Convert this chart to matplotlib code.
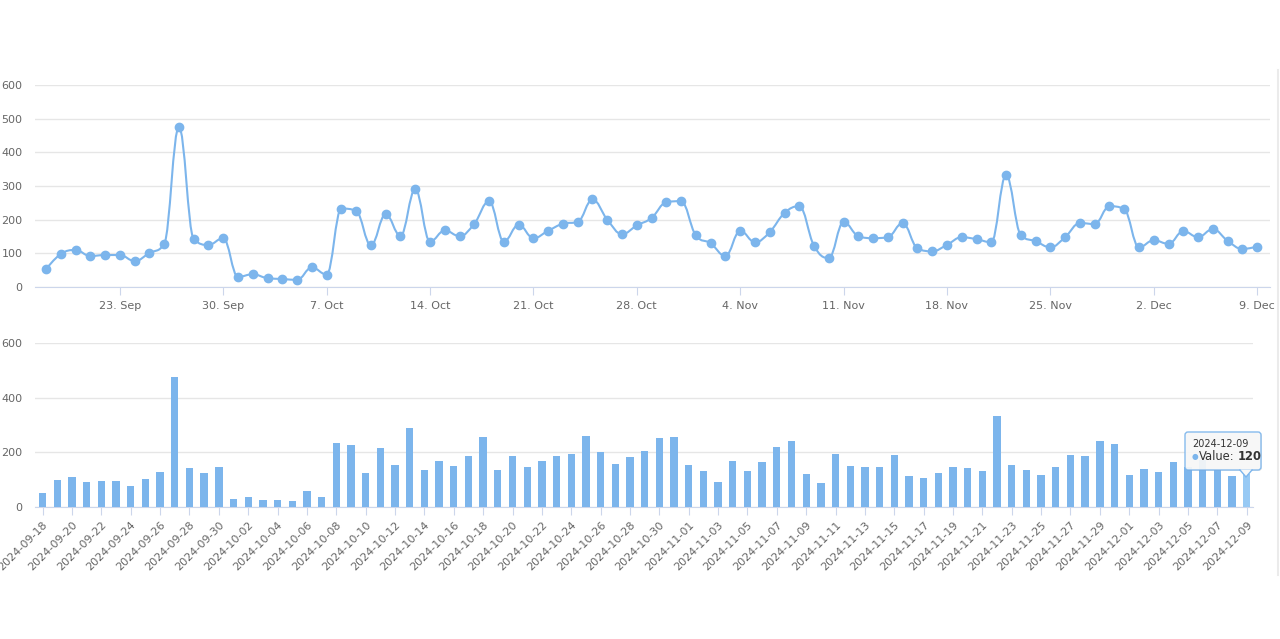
import datetime as dt
import matplotlib
matplotlib.use("Agg")
import matplotlib.pyplot as plt
import matplotlib.dates as mdates
from matplotlib.path import Path
from matplotlib.patches import PathPatch, FancyBboxPatch, Polygon
from matplotlib.lines import Line2D
from matplotlib.text import Annotation

# Daily values, 2024-09-18 .. 2024-12-09
start = dt.date(2024, 9, 18)
values = [53, 98, 110, 92, 95, 95, 77, 101, 128, 475,
          143, 125, 145, 30, 38, 26, 24, 21, 58, 37,
          233, 226, 124, 216, 152, 290, 135, 168, 151, 188,
          255, 135, 185, 145, 167, 188, 193, 260, 200, 157,
          183, 205, 252, 255, 153, 130, 92, 167, 133, 163,
          220, 240, 122, 86, 193, 151, 145, 148, 190, 115,
          106, 125, 148, 142, 133, 332, 154, 136, 118, 148,
          190, 187, 240, 231, 118, 139, 128, 166, 148, 172,
          137, 113, 120]
dates = [start + dt.timedelta(days=i) for i in range(len(values))]
labels = [d.strftime("%Y-%m-%d") for d in dates]

BLUE = "#7cb5ec"
HOVER = "#97c9f4"
GRID = "#e6e6e6"
AXIS = "#ccd6eb"
TXT = "#666666"

plt.rcParams["font.family"] = ["DejaVu Sans"]

W, H = 1280, 639
fig = plt.figure(figsize=(W / 100, H / 100), dpi=100)


def frac(x0, y0, x1, y1):
    return [x0 / W, 1 - y1 / H, (x1 - x0) / W, (y1 - y0) / H]


def spline_path(xs, ys, smoothing=1.5):
    # Highcharts-style spline segments
    n = len(xs)
    left = [(xs[i], ys[i]) for i in range(n)]
    right = [(xs[i], ys[i]) for i in range(n)]
    d = smoothing + 1
    for i in range(1, n - 1):
        px, py = xs[i], ys[i]
        lx, ly = xs[i - 1], ys[i - 1]
        nx, ny = xs[i + 1], ys[i + 1]
        lcx = (smoothing * px + lx) / d
        lcy = (smoothing * py + ly) / d
        rcx = (smoothing * px + nx) / d
        rcy = (smoothing * py + ny) / d
        corr = (rcy - lcy) * (rcx - px) / (rcx - lcx) + py - rcy
        lcy += corr
        rcy += corr
        if lcy > ly and lcy > py:
            lcy = max(ly, py); rcy = 2 * py - lcy
        elif lcy < ly and lcy < py:
            lcy = min(ly, py); rcy = 2 * py - lcy
        if rcy > ny and rcy > py:
            rcy = max(ny, py); lcy = 2 * py - rcy
        elif rcy < ny and rcy < py:
            rcy = min(ny, py); lcy = 2 * py - rcy
        left[i] = (lcx, lcy)
        right[i] = (rcx, rcy)
    verts = [(xs[0], ys[0])]
    codes = [Path.MOVETO]
    for i in range(1, n):
        verts += [right[i - 1], left[i], (xs[i], ys[i])]
        codes += [Path.CURVE4] * 3
    return Path(verts, codes)


# ---- top: spline chart over dates ----
ax1 = fig.add_axes(frac(35, 85, 1270, 287))
xnum = mdates.date2num(dates)
ax1.add_patch(PathPatch(spline_path(list(xnum), values), fill=False,
                        edgecolor=BLUE, lw=1.5, zorder=3))
ax1.plot(xnum, values, "o", color=BLUE, ms=6, zorder=4)
ax1.set_xlim(xnum[0] - 0.745, xnum[0] + 82.87)
ax1.set_ylim(0, 600)
ax1.set_yticks(range(0, 601, 100))
mondays = [d for d in dates if d.weekday() == 0]
ax1.set_xticks(mdates.date2num(mondays))
ax1.set_xticklabels([f"{d.day}. {d.strftime('%b')}" for d in mondays])
ax1.yaxis.grid(True, color=GRID, lw=1)

# ---- bottom: bar chart over categories ----
ax2 = fig.add_axes(frac(35, 343, 1253, 507))
idx = list(range(len(values)))
colors = [BLUE] * (len(values) - 1) + [HOVER]
ax2.bar(idx, values, width=0.5, color=colors, zorder=3)
ax2.set_xlim(-0.52, 82.43)
ax2.set_ylim(0, 600)
ax2.set_yticks(range(0, 601, 200))
ax2.set_xticks(idx[::2])
ax2.set_xticklabels(labels[::2], rotation=45, ha="right", va="top",
                    rotation_mode="anchor")
ax2.yaxis.grid(True, color=GRID, lw=1)

for ax in (ax1, ax2):
    ax.set_axisbelow(True)
    for s in ("top", "right", "left"):
        ax.spines[s].set_visible(False)
    ax.spines["bottom"].set_color(AXIS)
    ax.tick_params(axis="y", length=0, pad=9, labelsize=8, labelcolor=TXT)
    ax.tick_params(axis="x", length=6, color=AXIS, labelsize=8,
                   labelcolor=TXT)
ax1.tick_params(axis="x", pad=4)
ax2.tick_params(axis="x", pad=3)

# faint vertical border on the right
fig.add_artist(Line2D([1278 / W, 1278 / W], [1 - 70 / H, 1 - 575 / H],
                      color="#ebebeb", lw=1.5))

# ---- tooltip for the last bar ----
bx0, by0, bx1, by1 = 1185, 432, 1261, 470
shadow = FancyBboxPatch((bx0 + 1, H - by1 - 1), bx1 - bx0, by1 - by0,
                        boxstyle="round,pad=0,rounding_size=3",
                        transform=None, facecolor="#000000", alpha=0.08,
                        edgecolor="none", zorder=9)
box = FancyBboxPatch((bx0, H - by1), bx1 - bx0, by1 - by0,
                     boxstyle="round,pad=0,rounding_size=3",
                     transform=None, facecolor="#f9f9f9", alpha=0.92,
                     edgecolor=BLUE, lw=1, zorder=10)
ptr = Polygon([(1240, H - by1 + 0.5), (1252, H - by1 + 0.5), (1246, H - 477)],
              closed=True, transform=None, facecolor="#f9f9f9",
              edgecolor="none", zorder=11)
fig.add_artist(shadow)
fig.add_artist(box)
fig.add_artist(ptr)
fig.add_artist(Line2D([1240, 1246, 1252], [H - by1, H - 477, H - by1],
                      transform=None, color=BLUE, lw=1, zorder=12))
fig.text(1192 / W, 1 - 444 / H, labels[-1], fontsize=7, color="#333333",
         va="center", zorder=13)
fig.text(1192 / W, 1 - 457 / H, "\u25cf", fontsize=5.5, color=BLUE,
         va="center", zorder=13)
t = fig.text(1199 / W, 1 - 457 / H, "Value:", fontsize=8.3, color="#333333",
             va="center", zorder=13)
val = Annotation(f"{values[-1]}", xy=(1, 0.5), xycoords=t, xytext=(2.5, 0),
                 textcoords="offset points", fontsize=8.3, color="#333333",
                 fontweight="bold", va="center", ha="left",
                 annotation_clip=False)
val.set_zorder(14)
fig.add_artist(val)

plt.savefig("out.png", dpi=100)
